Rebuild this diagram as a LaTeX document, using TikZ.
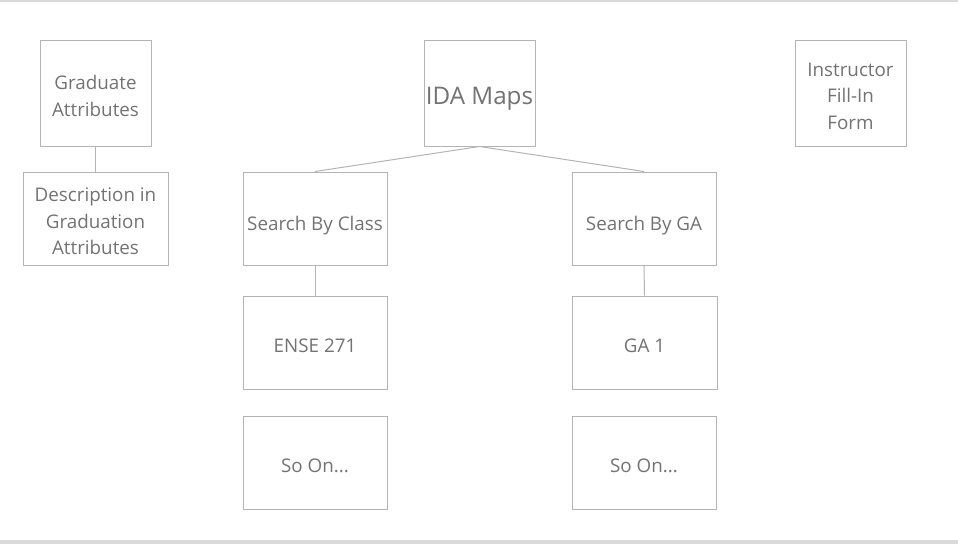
\documentclass[tikz,border=0pt]{standalone}
\usepackage{fontspec}
\setmainfont{Open Sans}
\definecolor{boxline}{HTML}{B4B4B4}
\definecolor{txt}{HTML}{737373}
\definecolor{rule}{HTML}{DADADA}
\begin{document}
\begin{tikzpicture}[x=1pt,y=-1pt,
  card/.style={draw=boxline, line width=1pt, fill=white, inner sep=0pt},
  caption/.style={text=txt, align=center, inner sep=0pt, yshift=-3pt,
    font=\fontsize{18.8}{26.5}\selectfont},
  onecap/.style={caption, yshift=-4.5pt},
  link/.style={draw=boxline, line width=1pt}]
\useasboundingbox (0,0) rectangle (958,544);
\fill[white] (0,0) rectangle (958,544);
\fill[rule] (0,0) rectangle (958,1.5);
\fill[rule] (0,540) rectangle (958,544);
\node[card, minimum width=111pt, minimum height=106pt] (ga) at (95.5,93) {};
\node[card, minimum width=145pt, minimum height=93pt] (desc) at (95.5,218.5) {};
\node[card, minimum width=111pt, minimum height=106pt] (ida) at (479.5,93) {};
\node[card, minimum width=111pt, minimum height=106pt] (inst) at (850.5,93) {};
\node[card, minimum width=144pt, minimum height=93pt] (sbc) at (315,218.5) {};
\node[card, minimum width=144pt, minimum height=93pt] (sbg) at (644,218.5) {};
\node[card, minimum width=144pt, minimum height=93pt] (ense) at (315,342.5) {};
\node[card, minimum width=145pt, minimum height=93pt] (ga1) at (644.5,342.5) {};
\node[card, minimum width=144pt, minimum height=93pt] (so1) at (315,462.5) {};
\node[card, minimum width=144pt, minimum height=93pt] (so2) at (644,462.5) {};
\node[caption] (ga-t) at (ga) {Graduate\\Attributes};
\node[caption] (desc-t) at (desc) {Description in\\Graduation\\Attributes};
\node[caption, font=\fontsize{24.2}{28}\selectfont, yshift=-3pt] (ida-t) at (ida) {IDA Maps};
\node[caption] (inst-t) at (inst) {Instructor\\Fill-In\\Form};
\node[onecap] (sbc-t) at (sbc) {Search By Class};
\node[onecap] (sbg-t) at (sbg) {Search By GA};
\node[caption] (ense-t) at (ense) {ENSE 271};
\node[caption] (ga1-t) at (ga1) {GA 1};
\node[caption] (so1-t) at (so1) {So On...};
\node[caption] (so2-t) at (so2) {So On...};
\draw[link] (ga.south) -- (desc.north);
\draw[link] (ida.south) -- (sbc.north);
\draw[link] (ida.south) -- (sbg.north);
\draw[link] (sbc.south) -- (ense.north);
\draw[link] (sbg.south) -- (ga1.north);
\end{tikzpicture}
\end{document}
